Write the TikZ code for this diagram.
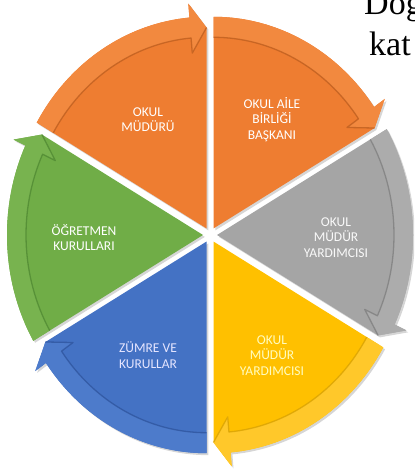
\documentclass[tikz,border=0pt]{standalone}
\usepackage{fontspec}
\newfontfamily\labfont{Carlito}
\newfontfamily\docfont{Liberation Serif}
\definecolor{orF}{HTML}{EE7D31}
\definecolor{orB}{HTML}{F2893F}
\definecolor{orL}{HTML}{B85A1C}
\definecolor{grF}{HTML}{A5A5A5}
\definecolor{grB}{HTML}{ACACAC}
\definecolor{grL}{HTML}{7A7A7A}
\definecolor{yeF}{HTML}{FFC000}
\definecolor{yeB}{HTML}{FFC82A}
\definecolor{yeL}{HTML}{D49E00}
\definecolor{blF}{HTML}{4472C4}
\definecolor{blB}{HTML}{4D7BCB}
\definecolor{blL}{HTML}{2C5199}
\definecolor{gnF}{HTML}{70AD47}
\definecolor{gnB}{HTML}{78B34F}
\definecolor{gnL}{HTML}{4C8530}
\newcommand\drawseg[4]{%
  \pgfmathsetmacro\aA{#1+30}%
  \pgfmathsetmacro\aB{#1-30}%
  \pgfmathsetmacro\aC{#1-25}%
  \begin{scope}[shift={(#1:7)}]
    \fill[black,opacity=0.16,shift={(1.8,-1.8)}] (0,0) -- (\aA:196) arc[start angle=\aA,end angle=\aC,radius=196] -- (\aC:209) -- (\aB:186) -- cycle;
    \fill[#2] (0,0) -- (\aA:196) arc[start angle=\aA,end angle=\aC,radius=196] -- (\aC:209) -- (\aB:186) -- cycle;
    \fill[#3] (\aA:177) arc[start angle=\aA,end angle=\aC,radius=177] -- (\aC:163) -- (\aB:186) -- (\aC:209) -- (\aC:196) arc[start angle=\aC,end angle=\aA,radius=196] -- cycle;
    \draw[#4,line width=1.3,opacity=0.7,line join=round] (\aA:177) arc[start angle=\aA,end angle=\aC,radius=177] -- (\aC:163) -- (\aB:186);
  \end{scope}}
\tikzset{lab/.style={font=\labfont\fontsize{13.5}{15.4}\selectfont,align=center,inner sep=0pt}}
\begin{document}
\begin{tikzpicture}[x=1pt,y=1pt]
\clip (0,0) rectangle (414,470);
\fill[white] (0,0) rectangle (414,470);
\begin{scope}[shift={(210,235)},yscale=1.08]
  \drawseg{120}{orF}{orB}{orL}
  \drawseg{60}{orF}{orB}{orL}
  \drawseg{0}{grF}{grB}{grL}
  \drawseg{-60}{yeF}{yeB}{yeL}
  \drawseg{240}{blF}{blB}{blL}
  \drawseg{180}{gnF}{gnB}{gnL}
\end{scope}
\node[lab,text=white] (l1) at (148,350.5) {OKUL\\MÜDÜRÜ};
\node[lab,text=white] (l2) at (272,350.5) {OKUL AİLE\\BİRLİĞİ\\BAŞKANI};
\node[lab,text=white!95!gray] (l3) at (336,232.5) {OKUL\\MÜDÜR\\YARDIMCISI};
\node[lab,text=yellow!25!white] (l4) at (272,114.5) {OKUL\\MÜDÜR\\YARDIMCISI};
\node[lab,text=blue!10!white] (l5) at (148,115) {ZÜMRE VE\\KURULLAR};
\node[lab,text=white] (l6) at (84,232.5) {ÖĞRETMEN\\KURULLARI};
\node[anchor=base west,inner sep=0pt,font=\docfont\fontsize{34}{34}\selectfont] (t1) at (364,455) {Doğ};
\node[anchor=base west,inner sep=0pt,font=\docfont\fontsize{34}{34}\selectfont] (t2) at (369,414) {kat};
\end{tikzpicture}
\end{document}
